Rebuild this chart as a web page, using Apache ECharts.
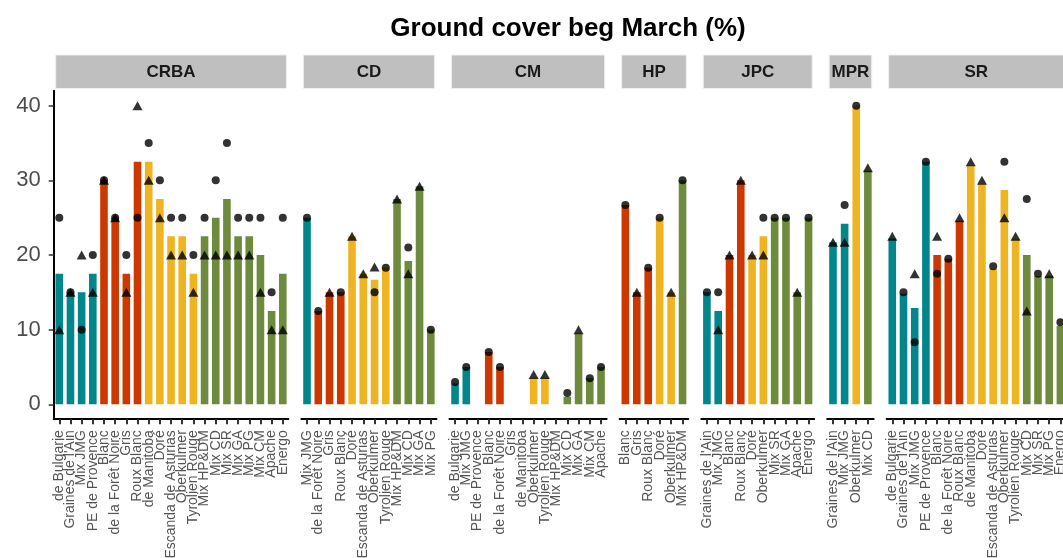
<!DOCTYPE html>
<html><head><meta charset="utf-8">
<script src="https://cdn.jsdelivr.net/npm/echarts@6/dist/echarts.min.js"></script>
<style>html,body{margin:0;padding:0;background:#fff}#c{width:1063px;height:558px}</style>
</head><body><div id="c"></div>
<script>
// ---------- DATA ----------
const chartTitle = 'Ground cover beg March (%)';
const yTicks = [0, 10, 20, 30, 40];
const facetNames = ['CRBA', 'CD', 'CM', 'HP', 'JPC', 'MPR', 'SR'];

const tealGroup = ['de Bulgarie', "Graines de l'Ain", 'Mix JMG', 'PE de Provence'];
const redGroup = ['Blanc', 'de la Forêt Noire', 'Gris', 'Roux Blanc'];
const yellowGroup = ['de Manitoba', 'Doré', 'Escanda de Asturias', 'Oberkulmer', 'Tyrolien Rouge'];
const greenGroup = ['Mix HP&DM', 'Mix CD', 'Mix SR', 'Mix GA', 'Mix PG', 'Mix CM', 'Apache', 'Energo'];

const crbaCats = ['de Bulgarie', "Graines de l'Ain", 'Mix JMG', 'PE de Provence', 'Blanc', 'de la Forêt Noire', 'Gris', 'Roux Blanc', 'de Manitoba', 'Doré', 'Escanda de Asturias', 'Oberkulmer', 'Tyrolien Rouge', 'Mix HP&DM', 'Mix CD', 'Mix SR', 'Mix GA', 'Mix PG', 'Mix CM', 'Apache', 'Energo'];
const crbaBar =      [17.5, 15, 15, 17.5, 30, 25, 17.5, 32.5, 32.5, 27.5, 22.5, 22.5, 17.5, 22.5, 25, 27.5, 22.5, 22.5, 20, 12.5, 17.5];
const crbaCircle =   [25, 15, 10, 20, 30, 25, 20, 25, 35, 30, 25, 25, 20, 25, 30, 35, 25, 25, 25, 15, 25];
const crbaTriangle = [10, 15, 20, 15, 30, 25, 15, 40, 30, 25, 20, 20, 15, 20, 20, 20, 20, 20, 15, 10, 10];

const cdCats = ['Mix JMG', 'de la Forêt Noire', 'Gris', 'Roux Blanc', 'Doré', 'Escanda de Asturias', 'Oberkulmer', 'Tyrolien Rouge', 'Mix HP&DM', 'Mix CD', 'Mix GA', 'Mix PG'];
const cdBar =      [25, 12.5, 15, 15, 22.5, 17.5, 16.7, 18.3, 27.5, 19.2, 29.2, 10];
const cdCircle =   [25, 12.5, null, 15, null, null, 15, 18.3, null, 21, null, 10];
const cdTriangle = [null, null, 15, null, 22.5, 17.5, 18.4, null, 27.5, 17.5, 29.2, null];

const cmCats = ['de Bulgarie', 'Mix JMG', 'PE de Provence', 'Blanc', 'de la Forêt Noire', 'Gris', 'de Manitoba', 'Oberkulmer', 'Tyrolien Rouge', 'Mix HP&DM', 'Mix CD', 'Mix GA', 'Mix CM', 'Apache'];
const cmBar =      [2.8, 5, null, 7, 5, null, null, 3.5, 3.5, null, 1, 9.5, 3.5, 5];
const cmCircle =   [3, 5, null, 7, 5, null, null, null, null, null, 1.5, null, 3.5, 5];
const cmTriangle = [null, null, null, null, null, null, null, 4, 4, null, null, 10, null, null];

const hpCats = ['Blanc', 'Gris', 'Roux Blanc', 'Doré', 'Oberkulmer', 'Mix HP&DM'];
const hpBar =      [26.7, 15, 18.3, 25, 15, 30];
const hpCircle =   [26.7, null, 18.3, 25, null, 30];
const hpTriangle = [null, 15, null, null, 15, null];

const jpcCats = ["Graines de l'Ain", 'Mix JMG', 'Blanc', 'Roux Blanc', 'Doré', 'Oberkulmer', 'Mix SR', 'Mix GA', 'Apache', 'Energo'];
const jpcBar =      [15, 12.5, 20, 30, 20, 22.5, 25, 25, 15, 25];
const jpcCircle =   [15, 15, null, null, null, 25, 25, 25, null, 25];
const jpcTriangle = [null, 10, 20, 30, 20, 20, null, null, 15, null];

const mprCats = ["Graines de l'Ain", 'Mix JMG', 'Oberkulmer', 'Mix CD'];
const mprBar =      [21.7, 24.2, 40, 31.3];
const mprCircle =   [null, 26.7, 40, null];
const mprTriangle = [21.7, 21.7, null, 31.7];

const srCats = ['de Bulgarie', "Graines de l'Ain", 'Mix JMG', 'PE de Provence', 'Blanc', 'de la Forêt Noire', 'Roux Blanc', 'de Manitoba', 'Doré', 'Escanda de Asturias', 'Oberkulmer', 'Tyrolien Rouge', 'Mix CD', 'Mix SR', 'Mix PG', 'Energo'];
const srBar =      [22.2, 14.8, 12.9, 32.5, 20, 19.5, 24.6, 32, 29.5, 18.2, 28.7, 22.2, 20, 17.2, 17.2, 10.5];
const srCircle =   [null, 15, 8.3, 32.5, 17.5, 19.5, null, null, null, 18.5, 32.5, null, 27.5, 17.5, null, 11];
const srTriangle = [22.5, null, 17.5, null, 22.5, null, 25, 32.5, 30, null, 25, 22.5, 12.5, null, 17.5, null];

// ---------- BUILD ----------
const facets = [
  [crbaCats, crbaBar, crbaCircle, crbaTriangle],
  [cdCats, cdBar, cdCircle, cdTriangle],
  [cmCats, cmBar, cmCircle, cmTriangle],
  [hpCats, hpBar, hpCircle, hpTriangle],
  [jpcCats, jpcBar, jpcCircle, jpcTriangle],
  [mprCats, mprBar, mprCircle, mprTriangle],
  [srCats, srBar, srCircle, srTriangle]
];

function colorOf(c) {
  if (tealGroup.includes(c)) return '#00868B';
  if (redGroup.includes(c)) return '#CD3700';
  if (yellowGroup.includes(c)) return '#EEB422';
  return '#6E8B3D';
}
const FONT = 'Liberation Sans, Arial, sans-serif';
const step = 11.07, gap = 13, left0 = 53.7, gTop = 90.8, gHeight = 328.4;
const grids = [], xAxes = [], yAxes = [], series = [], graphics = [];
let x = left0;
facets.forEach((f, i) => {
  const [cats, bar, circ, tri] = f;
  const w = (cats.length + 0.2) * step;
  grids.push({left: x, top: gTop, width: w, height: gHeight, containLabel: false, outerBoundsMode: 'none'});
  xAxes.push({
    type: 'category', gridIndex: i, data: cats,
    axisLine: {show: true, onZero: false, lineStyle: {color: '#000', width: 2}},
    axisTick: {show: true, alignWithLabel: true, length: 5, lineStyle: {color: '#333', width: 2}},
    axisLabel: {interval: 0, rotate: 90, fontSize: 14, color: '#555555', margin: 11, fontFamily: FONT},
    splitLine: {show: false}
  });
  yAxes.push({
    type: 'value', gridIndex: i, min: -2, max: 42, show: i === 0,
    splitLine: {show: false},
    axisLine: {show: true, lineStyle: {color: '#000', width: 2}},
    axisTick: {show: true, customValues: yTicks, length: 5, lineStyle: {color: '#333', width: 1.5}},
    axisLabel: {customValues: yTicks, fontSize: 22, color: '#4D4D4D', margin: 13, fontFamily: FONT}
  });
  series.push({
    type: 'bar', xAxisIndex: i, yAxisIndex: i, barWidth: 7.6,
    data: bar.map((v, k) => ({value: v == null ? '-' : v, itemStyle: {color: colorOf(cats[k])}})),
    z: 2, animation: false
  });
  series.push({
    type: 'scatter', xAxisIndex: i, yAxisIndex: i, symbol: 'circle', symbolSize: 8,
    itemStyle: {color: '#000'}, data: circ.map(v => v == null ? '-' : v), z: 3, animation: false
  });
  series.push({
    type: 'scatter', xAxisIndex: i, yAxisIndex: i, symbol: 'triangle', symbolSize: [10, 9],
    itemStyle: {color: '#000'}, data: tri.map(v => v == null ? '-' : v), z: 4, animation: false
  });
  graphics.push({
    type: 'rect', shape: {x: x + 2, y: 55, width: w - 4, height: 33.5},
    style: {fill: '#BFBFBF', stroke: '#EEEEEE', lineWidth: 1}, z: 1
  });
  graphics.push({
    type: 'text', x: x + w / 2, y: 72,
    style: {text: facetNames[i], fill: '#1A1A1A', font: 'bold 17px ' + FONT, textAlign: 'center', textVerticalAlign: 'middle'},
    z: 2
  });
  x += w + gap;
});

const chart = echarts.init(document.getElementById('c'), null, {renderer: 'canvas'});
chart.setOption({
  animation: false,
  backgroundColor: '#fff',
  title: {text: chartTitle, left: 563, top: 11, textAlign: 'center',
    textStyle: {fontSize: 26, fontWeight: 'bold', color: '#000', fontFamily: FONT}},
  grid: grids, xAxis: xAxes, yAxis: yAxes, series: series,
  graphic: graphics
});
</script></body></html>
